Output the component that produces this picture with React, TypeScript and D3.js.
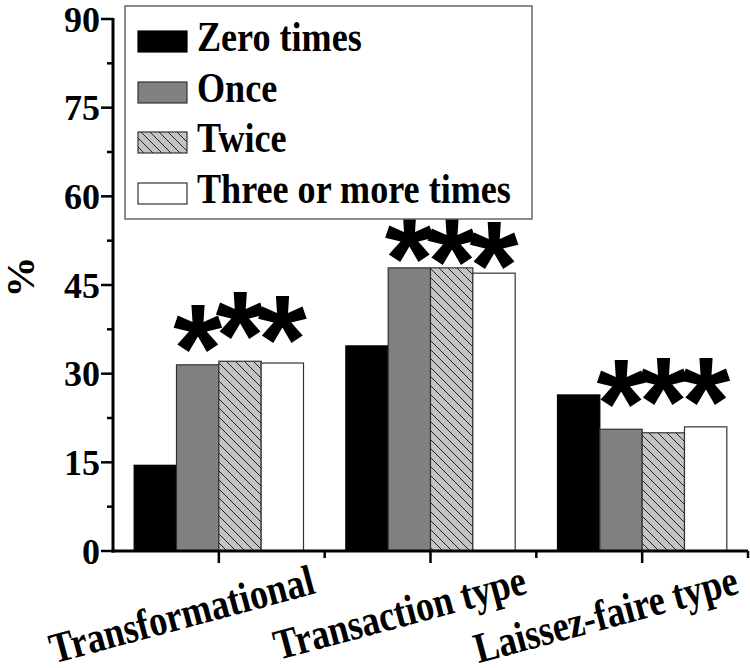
import React from "react";
import * as d3 from "d3";

const categories = ["Transformational", "Transaction type", "Laissez-faire type"];
const seriesNames = ["Zero times", "Once", "Twice", "Three or more times"];
const zeroTimes = [14.5, 34.7, 26.4];
const once = [31.5, 47.9, 20.6];
const twice = [32.1, 47.9, 20.0];
const threeOrMore = [31.8, 47.0, 21.0];
// asterisk annotation centres (data units), one per bar Once/Twice/Three
const starOnce = [36.5, 51.8, 27.2];
const starTwice = [38.7, 51.3, 27.6];
const starThree = [38.1, 50.6, 27.6];
const yTicks = [0, 15, 30, 45, 60, 75, 90];
const yMinorTicks = [7.5, 22.5, 37.5, 52.5, 67.5, 82.5];

const W = 750;
const H = 668;
const left = 113;
const right = 748;
const top = 19;
const bottom = 551;
const serif = "Liberation Serif";
const sans = "Liberation Sans";

export default function App() {
  const values = [zeroTimes, once, twice, threeOrMore];
  const stars = [null, starOnce, starTwice, starThree];
  const x0 = d3.scaleBand<string>().domain(categories).range([left, right]).paddingInner(0.2).paddingOuter(0.1);
  const x1 = d3.scaleBand<string>().domain(seriesNames).range([0, x0.bandwidth()]).padding(0);
  const xEdge = d3.scaleLinear().domain([0.5, categories.length + 0.5]).range([left, right]);
  const y = d3.scaleLinear().domain([0, 90]).range([bottom, top]);

  const fills = ["#000000", "#808080", "url(#hatch)", "#ffffff"];
  const strokes = ["#000000", "#333333", "#333333", "#333333"];

  const legendY = [31, 82, 132, 183];

  return (
    <svg width={W} height={H} style={{ position: "absolute", left: 0, top: 0, background: "#fff" }}>
      <defs>
        <pattern id="hatch" patternUnits="userSpaceOnUse" width={9} height={9}>
          <rect width={9} height={9} fill="#c4c4c4" />
          <path d="M-2,-2 L11,11 M-2,7 L2,11 M7,-2 L11,2" stroke="#222" strokeWidth={1} />
        </pattern>
      </defs>
      <rect width={W} height={H} fill="#fff" />

      {/* bars */}
      {categories.map((c, ci) => (
        <g key={c}>
          {seriesNames.map((s, si) => {
            const v = values[si][ci];
            return (
              <rect
                key={s}
                x={(x0(c) ?? 0) + (x1(s) ?? 0)}
                y={y(v)}
                width={x1.bandwidth()}
                height={y(0) - y(v)}
                fill={fills[si]}
                stroke={strokes[si]}
                strokeWidth={1.2}
              />
            );
          })}
          {seriesNames.map((s, si) => {
            const st = stars[si];
            if (!st) return null;
            const cx = (x0(c) ?? 0) + (x1(s) ?? 0) + x1.bandwidth() / 2;
            return (
              <text
                key={"st" + s}
                x={cx}
                y={y(st[ci]) + 57}
                textAnchor="middle"
                fontFamily={sans}
                fontWeight="bold"
                fontSize={126}
                fill="#000"
              >
                *
              </text>
            );
          })}
        </g>
      ))}

      {/* y axis */}
      <line x1={left} x2={left} y1={top - 1} y2={bottom + 1.5} stroke="#000" strokeWidth={3} />
      {yTicks.map((t) => (
        <g key={t}>
          <line x1={left - 12} x2={left} y1={y(t)} y2={y(t)} stroke="#000" strokeWidth={2.5} />
          <text
            x={left - 13}
            y={y(t)}
            dy="0.35em"
            textAnchor="end"
            fontFamily={serif}
            fontWeight="bold"
            fontSize={36}
          >
            {t}
          </text>
        </g>
      ))}
      {yMinorTicks.map((t) => (
        <line key={t} x1={left - 6} x2={left} y1={y(t)} y2={y(t)} stroke="#000" strokeWidth={2.5} />
      ))}

      {/* x axis */}
      <line x1={left - 1.5} x2={right} y1={bottom} y2={bottom} stroke="#000" strokeWidth={3} />
      {categories.map((c, ci) => (
        <line
          key={"maj" + c}
          x1={xEdge(ci + 1)}
          x2={xEdge(ci + 1)}
          y1={bottom}
          y2={bottom + 12}
          stroke="#000"
          strokeWidth={2.5}
        />
      ))}
      {categories.map((c, ci) => (
        <line
          key={"min" + c}
          x1={xEdge(ci + 1.5)}
          x2={xEdge(ci + 1.5)}
          y1={bottom}
          y2={bottom + 7}
          stroke="#000"
          strokeWidth={2.5}
        />
      ))}
      {categories.map((c, ci) => (
        <text
          key={"lab" + c}
          transform={`translate(${xEdge(ci + 1) + 98},593) rotate(-15) scale(0.84,1)`}
          textAnchor="end"
          fontFamily={serif}
          fontWeight="bold"
          fontSize={43}
        >
          {c}
        </text>
      ))}

      {/* y label */}
      <text
        transform="translate(34,277) rotate(-90)"
        textAnchor="middle"
        fontFamily={serif}
        fontWeight="bold"
        fontSize={41}
      >
        %
      </text>

      {/* legend */}
      <rect x={125} y={6} width={407} height={213} fill="#fff" stroke="#666" strokeWidth={1.5} />
      {seriesNames.map((s, si) => (
        <g key={"leg" + s}>
          <rect
            x={138}
            y={legendY[si]}
            width={49}
            height={21}
            fill={fills[si]}
            stroke={strokes[si]}
            strokeWidth={1.2}
          />
          <text
            transform={`translate(197,${legendY[si] + 20}) scale(0.86,1)`}
            fontFamily={serif}
            fontWeight="bold"
            fontSize={42}
          >
            {s}
          </text>
        </g>
      ))}
    </svg>
  );
}
